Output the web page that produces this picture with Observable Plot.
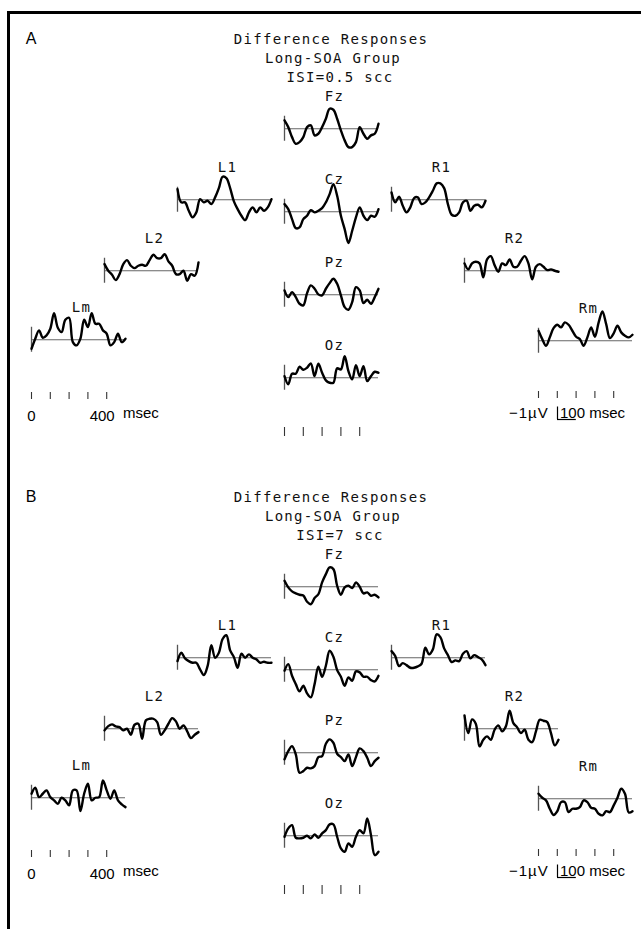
<!DOCTYPE html>
<html><head><meta charset="utf-8">
<script src="https://cdn.jsdelivr.net/npm/d3@7"></script>
<script src="https://cdn.jsdelivr.net/npm/@observablehq/plot@0.6"></script>
<style>
body{margin:0;background:#fff;}
#fig{position:relative;width:641px;height:929px;overflow:hidden;background:#fff;}
.frame{position:absolute;left:7px;top:11px;width:640px;height:930px;border-left:3px solid #000;border-top:3px solid #000;}
.ttl{position:absolute;font-family:"DejaVu Sans Mono",monospace;font-size:14px;letter-spacing:1.3px;white-space:nowrap;transform:translate(-50%,-50%);color:#111;}
.pl{position:absolute;font-family:"Liberation Sans",Arial,sans-serif;font-size:16px;transform:translate(-50%,-50%);}
.unit{position:absolute;font-family:"Liberation Sans",Arial,sans-serif;font-size:15px;white-space:nowrap;line-height:1;color:#000;}
</style></head><body><div id="fig"><div class="frame"></div></div>
<script>
// ---------- data ----------
const sampleMs = [0,20,40,60,80,100,120,140,160,180,200,220,240,260,280,300,320,340,360,380,400,420,440,460,480,500];
const tickMs = [0,100,200,300,400];
const firstTickLabel = [{ms:0,label:"0"}];
const lastTickLabel = [{ms:400,label:"400"}];
const startBarUv = [-1, 1];
const calibration = {ms:100, uv:1};
const panelLetters = ["A","B"];
const titleLines = ["Difference Responses","Long-SOA Group"];
const isiLabels = ["ISI=0.5 scc","ISI=7 scc"];
const electrodes = ["Fz","L1","Cz","R1","L2","R2","Pz","Lm","Rm","Oz"];
const electrodeText = {Fz:"Fz",L1:"L1",Cz:"Cz",R1:"R1",L2:"L2",R2:"R2",Pz:"Pz",Lm:"Lm",Rm:"Rm",Oz:"Oz"};

// Panel A (ISI = 0.5 s), amplitude in µV
const A_Fz = [0.67,0.13,-0.67,-1.2,-1.07,-0.67,0.13,0.27,-0.53,-0.4,0.13,0.8,1.6,1.52,0.8,-0.13,-0.93,-1.47,-1.47,-1.07,0.13,-0.4,-0.8,-0.53,-0.4,0.4];
const A_L1 = [0.85,-0.21,-0.21,-0.88,-1.41,-1.01,0.05,-0.21,-0.08,-0.35,0.19,0.93,1.84,1.73,0.93,-0.13,-0.75,-1.28,-1.63,-1.01,-0.61,-1.01,-0.61,-0.88,-0.61,0.05];
const A_Cz = [0.61,0.21,-0.59,-1.31,-1.25,-0.59,-0.32,0.13,-0.05,0.08,0.29,0.75,1.41,2.21,1.28,-0.32,-1.39,-2.5,-1.52,-0.45,0.35,-0.32,-0.67,-0.32,-0.4,0.21];
const A_R1 = [0.59,-0.21,0.24,-0.48,-1.01,-0.61,0.13,0.19,-0.35,-0.21,0.19,0.72,1.31,1.31,0.93,-0.35,-1.2,-1.28,-1.01,-0.21,-0.08,-0.88,-0.48,-0.4,-0.61,-0.08];
const A_L2 = [0.53,0,-0.32,-0.75,-0.27,0.53,0.85,0.4,0.21,0.4,0.48,0.4,0.85,1.28,1.01,1.01,1.33,0.75,0.4,-0.27,-0.27,0,-0.8,-0.27,-0.4,0.67];
const A_R2 = [0.59,0.11,0.59,0.72,0.59,-0.53,0.91,1.17,0.45,-0.08,0.59,0.45,0.91,0.32,0.32,0.8,1.17,0.59,-0.69,0.32,0.53,0.32,0.05,0.11,0,-0.08];
const A_Pz = [0.35,-0.19,0.21,-0.19,-0.72,-0.85,0.13,0.75,0.48,0.03,-0.05,0.48,0.93,1.28,0.88,-0.05,-0.99,-1.2,-0.59,0.61,0.35,-0.67,-0.4,-0.72,-0.19,0.48];
const A_Lm = [-0.72,0.08,0.75,0.16,0.35,0.88,2.13,0.96,0.61,1.6,1.76,-0.19,-0.45,0.08,1.6,1.01,2.13,1.28,1.28,0.75,0.48,-0.45,-0.19,0.48,-0.19,0.08];
const A_Rm = [0.8,0.13,-0.4,0.27,1.01,1.28,1.07,1.47,1.28,0.8,0.32,0.13,-0.4,0.27,1.07,0.32,1.47,2.35,1.33,0.21,0.59,1.2,0.67,0.4,0.27,0.48];
const A_Oz = [0.13,-0.53,0.32,0.32,0.88,0.64,0.8,1.15,0.13,1.12,0.4,-0.21,-0.4,-0.4,0.75,0.67,1.73,0.53,-0.13,1.01,0.13,0.93,-0.27,0.13,0.48,0.4];

// Panel B (ISI = 7 s), amplitude in µV
const B_Fz = [0.48,-0.05,-0.37,-0.53,-0.64,-0.7,-1.2,-1.4,-0.9,-0.6,0.35,1.01,1.55,1.41,0.08,-0.64,-0.05,0.08,-0.11,0.35,0,-0.53,-0.45,-0.72,-0.64,-0.85];
const B_L1 = [-0.27,0.4,-0.05,-0.27,-0.4,-0.4,-0.93,-1.39,-0.67,1.01,0,0.4,1.5,1.8,0.59,0.05,-0.8,0.32,0,0.27,0,-0.13,-0.4,-0.32,-0.4,-0.4];
const B_Cz = [-0.08,0.45,-0.48,-1.15,-1.73,-1.28,-1.89,-2.21,-1.15,0.24,-0.56,0.32,1.52,1.04,-0.03,-0.56,-1.28,-0.61,-0.88,-0.13,-0.21,-0.56,-0.56,-0.83,-0.93,-0.48];
const B_R1 = [0.53,0.13,-0.67,-0.43,-0.59,-0.8,-0.8,-0.69,-0.48,0.8,0.27,0.67,1.87,1.65,0.75,0.21,-0.35,-0.21,-0.27,0.32,0.53,-0.05,0.21,0.05,-0.13,-0.59];
const B_L2 = [-0.13,0.21,0.35,0.19,0.13,-0.13,0,-0.48,0.32,0.4,-0.8,0.67,0.8,0.8,0.53,-0.48,-0.13,0.4,0.85,0.59,0,0.27,-0.21,-0.75,-0.48,-0.27];
const B_R2 = [1.07,-0.35,0.75,0.4,-1.41,-0.88,-0.61,-0.88,-0.08,0.27,-0.21,0.19,1.44,0.45,0.11,-0.35,-0.08,-0.88,-1.07,-0.21,0.72,0.64,0.53,-0.35,-1.33,-0.88];
const B_Pz = [-0.53,0.13,0.53,-0.13,-1.6,-1.47,-1.2,-1.25,-1.07,-0.35,-0.27,0.72,1.07,0.8,-0.08,-0.35,-0.67,-0.13,-1.07,-0.35,0.35,0.13,-0.4,-1.07,-0.67,-0.4];
const B_Lm = [0.32,0.8,0.05,0.32,0.59,0.05,-0.21,-0.48,0,-0.21,-0.61,0.59,0.59,-1.07,0.32,1.12,-0.21,0,0.05,1.39,0.59,-0.08,0.59,-0.21,-0.53,-0.75];
const B_Rm = [0.4,0.08,-0.13,-0.8,-1.3,-1.0,-0.27,-0.27,-1.07,-0.8,-0.8,-0.67,-0.13,-0.27,-0.72,-0.8,-1.2,-1.33,-0.99,-1.07,-0.53,0.08,0.8,0.4,-1.1,-1.0];
const B_Oz = [-0.08,0.59,0.85,-0.16,-0.21,-0.16,0,-0.21,0.11,-0.16,0.19,0.45,0.91,0.91,-0.08,-1.01,-1.28,-0.61,-0.88,-0.08,0.45,0.19,1.39,0.05,-1.55,-1.28];

const panels = [
  {Fz:A_Fz,L1:A_L1,Cz:A_Cz,R1:A_R1,L2:A_L2,R2:A_R2,Pz:A_Pz,Lm:A_Lm,Rm:A_Rm,Oz:A_Oz},
  {Fz:B_Fz,L1:B_L1,Cz:B_Cz,R1:B_R1,L2:B_L2,R2:B_R2,Pz:B_Pz,Lm:B_Lm,Rm:B_Rm,Oz:B_Oz}
];

// ---------- layout (page pixels) ----------
const W = 94;
const PXUV = 12.5;
const YMAX = 2.5;
const mL = 6, mR = 6, mT = 12, mB = 12;
const pos = {Fz:[283.5,128], L1:[177,199], Cz:[283.5,211], R1:[390.5,199], L2:[103.5,270], R2:[463.5,270.5],
             Pz:[283.5,294.5], Lm:[30.5,339.5], Rm:[537.5,340], Oz:[283.5,377]};
const panelDy = [0, 458];
const fig = document.getElementById("fig");

function place(node, left, top) {
  node.style.position = "absolute";
  node.style.left = left + "px";
  node.style.top = top + "px";
  node.style.overflow = "visible";
  fig.appendChild(node);
}
function addDiv(cls, text, left, top) {
  const d = document.createElement("div");
  d.className = cls; d.textContent = text;
  d.style.left = left + "px"; d.style.top = top + "px";
  fig.appendChild(d);
  return d;
}

function wavePlot(values, label) {
  const data = values.map((v, i) => ({ms: sampleMs[i], uv: v}));
  return Plot.plot({
    width: W + mL + mR, height: 2 * YMAX * PXUV + mT + mB,
    marginLeft: mL, marginRight: mR, marginTop: mT, marginBottom: mB,
    x: {domain: [0, 500], axis: null},
    y: {domain: [-YMAX, YMAX], axis: null},
    style: {fontFamily: "DejaVu Sans Mono", fontSize: "14px", letterSpacing: "1.3px", background: "transparent", overflow: "visible", color: "#000"},
    marks: [
      Plot.ruleY([0], {stroke: "#666", strokeWidth: 1.1}),
      Plot.ruleX([0], {y1: startBarUv[0], y2: startBarUv[1], stroke: "#555", strokeWidth: 1.3}),
      Plot.line(data, {x: "ms", y: "uv", curve: "catmull-rom", stroke: "#000", strokeWidth: 2.4, strokeLinejoin: "round", strokeLinecap: "round"}),
      Plot.text([label], {frameAnchor: "top", lineAnchor: "middle", dx: 3, dy: -1, fill: "#111"})
    ]
  });
}

function tickRow(withLabels, tickLen) {
  const marks = [Plot.ruleX(tickMs, {stroke: "#333", strokeWidth: 1.1})];
  if (withLabels) {
    marks.push(Plot.text(firstTickLabel, {x: "ms", text: "label", frameAnchor: "bottom", lineAnchor: "bottom", dy: 21, fill: "#000"}));
    marks.push(Plot.text(lastTickLabel, {x: "ms", text: "label", frameAnchor: "bottom", lineAnchor: "bottom", textAnchor: "end", dx: 8, dy: 21, fill: "#000"}));
  }
  return Plot.plot({
    width: W + mL + mR, height: tickLen + 26,
    marginLeft: mL, marginRight: mR, marginTop: 0, marginBottom: 26,
    x: {domain: [0, 500], axis: null},
    style: {fontFamily: "Liberation Sans", fontSize: "15px", background: "transparent", overflow: "visible"},
    marks
  });
}

function calibPlot() {
  return Plot.plot({
    width: W + mL + mR, height: 2 * PXUV + 4,
    marginLeft: mL, marginRight: mR, marginTop: 2, marginBottom: 2,
    x: {domain: [0, 500], axis: null},
    y: {domain: [0, 2], axis: null},
    style: {background: "transparent", overflow: "visible"},
    marks: [
      Plot.ruleX([0], {y1: 0, y2: calibration.uv, stroke: "#000", strokeWidth: 1.2}),
      Plot.ruleY([0], {x1: 0, x2: calibration.ms, stroke: "#000", strokeWidth: 1.2})
    ]
  });
}

panels.forEach((panel, p) => {
  const dy = panelDy[p];
  addDiv("pl", panelLetters[p], 31, 39 + dy);
  addDiv("ttl", titleLines[0], 331, 39 + dy);
  addDiv("ttl", titleLines[1], 333, 58 + dy);
  addDiv("ttl", isiLabels[p], 340, 77 + dy);

  electrodes.forEach(e => {
    const [x0, base] = pos[e];
    const svg = wavePlot(panel[e], electrodeText[e]);
    place(svg, x0 - mL, base + dy - mT - YMAX * PXUV);
  });

  place(tickRow(true, 7), pos.Lm[0] - mL, 392 + dy);
  place(tickRow(false, 7), pos.Rm[0] - mL, 391 + dy);
  place(tickRow(false, 9), pos.Oz[0] - mL, 427 + dy);
  addDiv("unit", "msec", 123, 405 + dy);
  addDiv("unit", "\u22121\u00B5V", 509, 405 + dy).style.letterSpacing = "1px";
  place(calibPlot(), 557 - mL, 419 + dy - 2 * PXUV - 2);
  addDiv("unit", "100 msec", 560, 405 + dy);
});
</script></body></html>
